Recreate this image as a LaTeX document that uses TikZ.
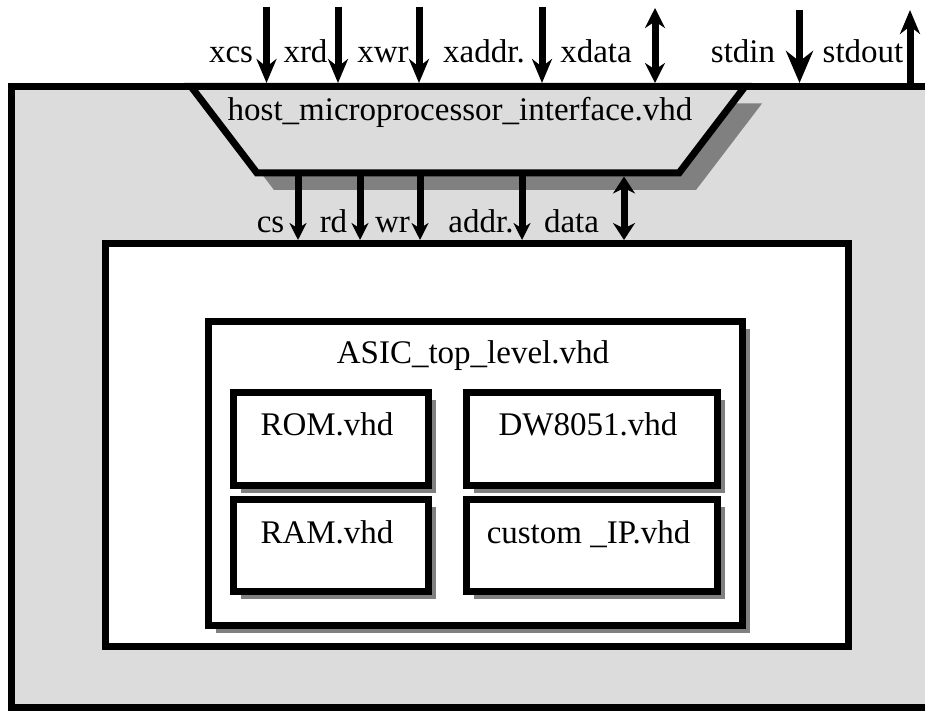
\documentclass[tikz,border=0pt]{standalone}
\usepackage{fontspec}
\setmainfont{Liberation Serif}
\usepackage{tikz}
\usetikzlibrary{arrows.meta,fit,shadows}
\definecolor{panelgrey}{RGB}{220,220,220}
\definecolor{shadowgrey}{RGB}{128,128,128}

\tikzset{
  lbl/.style={font=\fontsize{16.5}{19.8}\selectfont, inner sep=0pt, anchor=base},
  blk/.style={draw=black, line width=3.5pt, inner sep=0pt},
  dshadow/.style={drop shadow={shadow xshift=#1, shadow yshift=-#1, fill=shadowgrey, opacity=1}},
  sig/.style={line width=3.5pt, -{Stealth[length=12pt,width=10pt]}},
  sigbig/.style={line width=3.5pt, -{Stealth[length=16pt,width=13.5pt]}},
  sigsm/.style={line width=3.5pt, -{Stealth[length=8.5pt,width=8.5pt]}},
  bus/.style={line width=3.5pt, {Stealth[length=10pt,width=10pt]}-{Stealth[length=10pt,width=10pt]}},
  bussm/.style={line width=3.5pt, {Stealth[length=8.5pt,width=11pt]}-{Stealth[length=8.5pt,width=11pt]}}
}

\begin{document}
\begin{tikzpicture}[x=0.5pt, y=-0.5pt]
    \useasboundingbox (0,0) rectangle (925,711);
    \clip (0,0) rectangle (925,711);

    % Chip boundary, open on the right
    \fill[panelgrey] (11.5,86.5) rectangle (940,707.5);
    \draw[line width=3.5pt] (940,86.5) -- (11.5,86.5) -- (11.5,707.5) -- (940,707.5);
    \coordinate (chiptop) at (0,83);

    % Host interface trapezium
    \coordinate (hif-tl) at (191,86.5);
    \coordinate (hif-tr) at (745,86.5);
    \coordinate (hif-br) at (679,173);
    \coordinate (hif-bl) at (257,173);
    \draw[blk, fill=panelgrey, dshadow=8.5pt] (hif-tl) -- (hif-tr) -- (hif-br) -- (hif-bl) -- cycle;
    \node[lbl] (hiftxt) at (460,121) {host\_microprocessor\_interface.vhd};

    % Board and ASIC
    \node[blk, fill=white, fit={(105.5,243.5) (848.5,646.5)}] (board) {};
    \node[blk, fill=white, dshadow=3.75pt, fit={(208,321) (742.5,625.5)}] (asic) {};
    \node[lbl] (asictxt) at (473,363) {ASIC\_top\_level.vhd};

    % Sub-blocks
    \node[blk, fill=white, dshadow=3.75pt, fit={(233,392) (428.5,485.5)}] (rom) {};
    \node[blk, fill=white, dshadow=3.75pt, fit={(466,392) (717,485.5)}] (dw) {};
    \node[blk, fill=white, dshadow=3.75pt, fit={(233,499.5) (428.5,591)}] (ram) {};
    \node[blk, fill=white, dshadow=3.75pt, fit={(466,499.5) (717,591)}] (cip) {};
    \node[lbl] (romtxt) at (327,435) {ROM.vhd};
    \node[lbl] (dwtxt) at (588,435) {DW8051.vhd};
    \node[lbl] (ramtxt) at (327,543) {RAM.vhd};
    \node[lbl] (ciptxt) at (588.5,543) {custom \_IP.vhd};

    % External pins
    \coordinate (xcs) at (266.5,7);
    \coordinate (xrd) at (338,7);
    \coordinate (xwr) at (419,7);
    \coordinate (xaddr) at (542,7);
    \coordinate (xdata) at (655,8);
    \coordinate (stdin) at (799.5,10);
    \coordinate (stdout) at (910,10);
    \draw[sig] (xcs) -- (xcs |- chiptop);
    \draw[sig] (xrd) -- (xrd |- chiptop);
    \draw[sig] (xwr) -- (xwr |- chiptop);
    \draw[sig] (xaddr) -- (xaddr |- chiptop);
    \draw[bus] (xdata) -- (xdata |- chiptop);
    \draw[sigbig] (stdin) -- (stdin |- chiptop);
    \draw[sig] (stdout |- chiptop) -- (stdout);
    \node[lbl] (xcslbl) at (231,63) {xcs};
    \node[lbl] (xrdlbl) at (305.5,63) {xrd};
    \node[lbl] (xwrlbl) at (383,63) {xwr};
    \node[lbl] (xaddrlbl) at (484,63) {xaddr.};
    \node[lbl] (xdatalbl) at (596,63) {xdata};
    \node[lbl] (stdinlbl) at (743,63) {stdin};
    \node[lbl] (stdoutlbl) at (863,63) {stdout};

    % Internal bus
    \coordinate (cs) at (298,173);
    \coordinate (rd) at (360,173);
    \coordinate (wr) at (420,173);
    \coordinate (addr) at (522,173);
    \coordinate (data) at (624,176.5);
    \draw[sigsm] (cs) -- (cs |- board.north);
    \draw[sigsm] (rd) -- (rd |- board.north);
    \draw[sigsm] (wr) -- (wr |- board.north);
    \draw[sigsm] (addr) -- (addr |- board.north);
    \draw[bussm] (data) -- (data |- board.north);
    \node[lbl] (cslbl) at (270.5,233) {cs};
    \node[lbl] (rdlbl) at (333.5,233) {rd};
    \node[lbl] (wrlbl) at (392.5,233) {wr};
    \node[lbl] (addrlbl) at (481,233) {addr.};
    \node[lbl] (datalbl) at (571.5,233) {data};
\end{tikzpicture}
\end{document}
